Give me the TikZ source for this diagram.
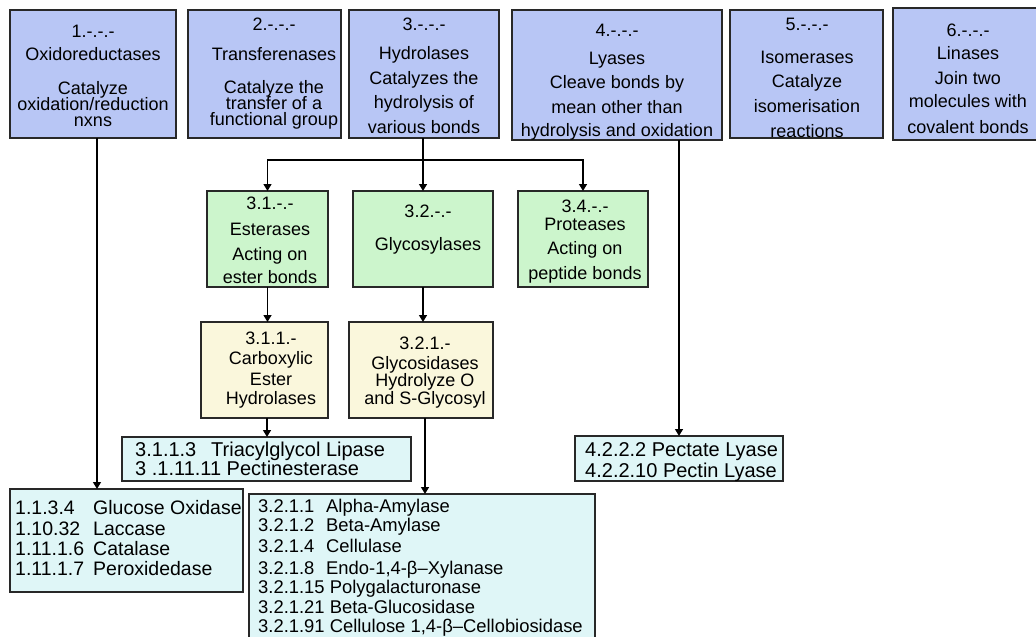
\documentclass[tikz,border=0pt]{standalone}
\usepackage{fontspec}
\setmainfont{Liberation Sans}
\usetikzlibrary{arrows.meta}
\definecolor{topblue}{RGB}{184,198,245}
\definecolor{lgreen}{RGB}{204,245,204}
\definecolor{lyellow}{RGB}{250,247,220}
\definecolor{lcyan}{RGB}{223,246,247}
\definecolor{edge}{RGB}{40,40,40}
\newcommand{\fs}[1]{\fontsize{#1}{0}\selectfont\lineskiplimit=-100pt\lineskip=0pt}
\tikzset{
  box/.style={draw=edge, line width=1.6pt, inner sep=0pt, outer sep=0pt, anchor=north west},
  topbox/.style={box, fill=topblue},
  grbox/.style={box, fill=lgreen},
  yebox/.style={box, fill=lyellow},
  lsbox/.style={box, fill=lcyan},
  ctext/.style={inner sep=0pt, align=center, anchor=north, text=black},
  ltext/.style={inner sep=0pt, align=left, anchor=north west, text=black},
  arr/.style={draw=black, line width=1.4pt, -{Triangle[width=8pt,length=7pt]}},
  conn/.style={draw=black, line width=1.4pt}
}
\begin{document}
\begin{tikzpicture}[x=1pt,y=-1pt]
\useasboundingbox (0,0) rectangle (1036,637);
\clip (0,0) rectangle (1036,637);
% top level boxes
\node[topbox, minimum width=166pt, minimum height=128pt] (b1) at (10,10) {};
\node[topbox, minimum width=153pt, minimum height=128pt] (b2) at (188,10) {};
\node[topbox, minimum width=150pt, minimum height=128pt] (b3) at (349,10) {};
\node[topbox, minimum width=210pt, minimum height=130pt] (b4) at (512,10) {};
\node[topbox, minimum width=153pt, minimum height=128pt] (b5) at (730,10) {};
\node[topbox, minimum width=150pt, minimum height=132pt] (b6) at (893,8) {};
% second level
\node[grbox, minimum width=121pt, minimum height=96pt] (g31) at (207,191) {};
\node[grbox, minimum width=140pt, minimum height=96pt] (g32) at (353,191) {};
\node[grbox, minimum width=130pt, minimum height=96pt] (g34) at (518,191) {};
% third level
\node[yebox, minimum width=127pt, minimum height=96pt] (y311) at (201,322) {};
\node[yebox, minimum width=144pt, minimum height=96pt] (y321) at (349,322) {};
% lists
\node[lsbox, minimum width=289pt, minimum height=44pt] (tri) at (122,437) {};
\node[lsbox, minimum width=233pt, minimum height=103pt] (gluc) at (10,489) {};
\node[lsbox, minimum width=346pt, minimum height=160pt] (amyl) at (249,494) {};
\node[lsbox, minimum width=208pt, minimum height=45pt] (pect) at (575,436) {};

% texts top
\node[ctext, font=\fs{18}] (b1t) at (93,24.5) {1.-.-.-\\[23pt]Oxidoreductases\\[34pt]Catalyze\\[16pt]oxidation/reduction\\[16pt]nxns};
\node[ctext, font=\fs{18}] (b2t) at (274,17.5) {2.-.-.-\\[30pt]Transferenases\\[33pt]Catalyze the\\[16pt]transfer of a\\[16pt]functional group};
\node[ctext, font=\fs{18}] (b3t) at (424,17.5) {3.-.-.-\\[29pt]Hydrolases\\[25pt]Catalyzes the\\[24pt]hydrolysis of\\[25pt]various bonds};
\node[ctext, font=\fs{18}] (b4t) at (617,23.5) {4.-.-.-\\[28pt]Lyases\\[24pt]Cleave bonds by\\[25pt]mean other than\\[23pt]hydrolysis and oxidation};
\node[ctext, font=\fs{18}] (b5t) at (807,17.5) {5.-.-.-\\[33pt]Isomerases\\[24pt]Catalyze\\[25pt]isomerisation\\[25pt]reactions};
\node[ctext, font=\fs{18}] (b6t) at (968,23.5) {6.-.-.-\\[23pt]Linases\\[25pt]Join two\\[23pt]molecules with\\[26pt]covalent bonds};
% texts green
\node[ctext, font=\fs{18}] (g31t) at (270,196.5) {3.1.-.-\\[26pt]Esterases\\[25pt]Acting on\\[23pt]ester bonds};
\node[ctext, font=\fs{18}] (g32t) at (428,204.5) {3.2.-.-\\[33pt]Glycosylases};
\node[ctext, font=\fs{18}] (g34t) at (585,199.5) {3.4.-.-\\[18pt]Proteases\\[24pt]Acting on\\[25pt]peptide bonds};
% texts yellow
\node[ctext, font=\fs{18}] (y311t) at (271,332) {3.1.1.-\\[20pt]Carboxylic\\[21pt]Ester\\[19pt]Hydrolases};
\node[ctext, font=\fs{18}] (y321t) at (425,337) {3.2.1.-\\[20pt]Glycosidases\\[17pt]Hydrolyze O\\[18pt]and S-Glycosyl};
% list texts
\node[ltext, font=\fs{20}] (trit) at (135,442) {\makebox[76pt][l]{3.1.1.3}Triacylglycol Lipase\\[19pt]3 .1.11.11 Pectinesterase};
\node[ltext, font=\fs{19.5}] (glut) at (15,500) {\makebox[78pt][l]{1.1.3.4}Glucose Oxidase\\[21pt]\makebox[78pt][l]{1.10.32}Laccase\\[20pt]\makebox[78pt][l]{1.11.1.6}Catalase\\[20pt]\makebox[78pt][l]{1.11.1.7}Peroxidedase};
\node[ltext, font=\fs{18.4}] (amyt) at (258,498.5) {\makebox[68pt][l]{3.2.1.1}Alpha-Amylase\\[19.5pt]\makebox[68pt][l]{3.2.1.2}Beta-Amylase\\[20.5pt]\makebox[68pt][l]{3.2.1.4}Cellulase\\[22pt]\makebox[68pt][l]{3.2.1.8}Endo-1,4-β–Xylanase\\[19pt]3.2.1.15 Polygalacturonase\\[20.5pt]3.2.1.21 Beta-Glucosidase\\[18.5pt]3.2.1.91 Cellulose 1,4-β–Cellobiosidase};
\node[ltext, font=\fs{20}] (pectt) at (585,442) {4.2.2.2 Pectate Lyase\\[21pt]4.2.2.10 Pectin Lyase};

% connectors
\coordinate (hub) at (423,160);
\draw[conn] (b3.south -| hub) -- (hub);
\draw[arr] (hub) -| (g31.north);
\draw[arr] (hub) -- (hub |- g32.north);
\draw[arr] (hub) -| (g34.north);
\draw[arr] ([xshift=4pt]b1.south) -- ([xshift=4pt]b1.south |- gluc.north);
\draw[arr] (g31.south) -- (g31.south |- y311.north);
\draw[arr] (g32.south) -- (g32.south |- y321.north);
\draw[arr] ([xshift=2.5pt]y311.south) -- ([xshift=2.5pt]y311.south |- tri.north);
\draw[arr] ([xshift=4pt]y321.south) -- ([xshift=4pt]y321.south |- amyl.north);
\draw[arr] (pect.north |- b4.south) -- (pect.north);
\end{tikzpicture}
\end{document}
